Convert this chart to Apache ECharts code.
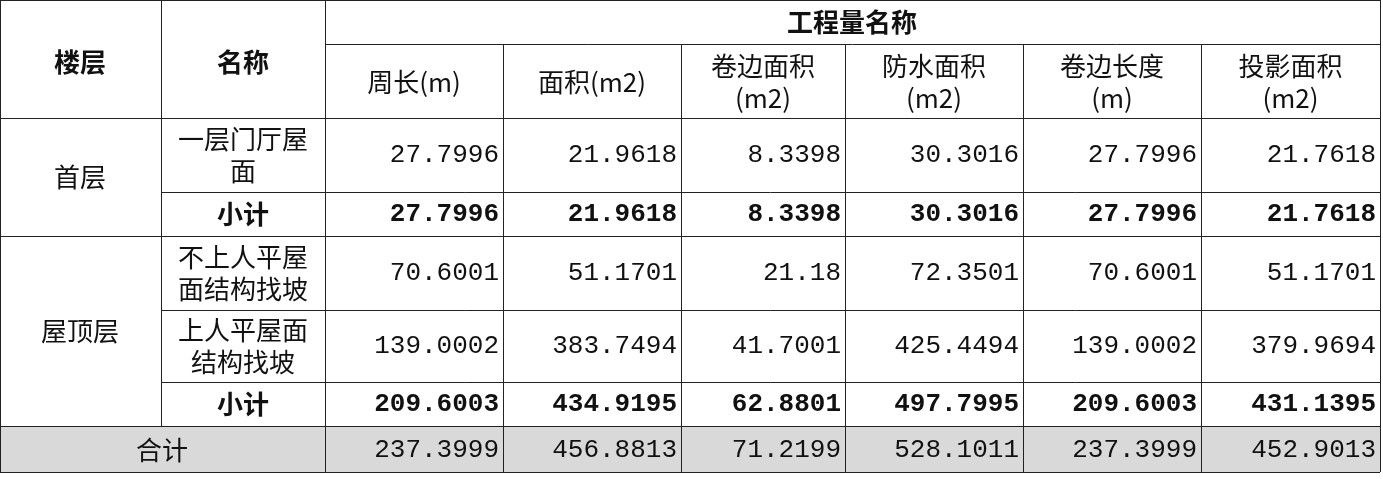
<!DOCTYPE html><html><head><meta charset="utf-8">
<script src="https://cdn.jsdelivr.net/npm/echarts@6/dist/echarts.min.js"></script>
<style>html,body{margin:0;background:#fff}#c{width:1383px;height:479px}</style></head><body><div id="c"></div>
<script>
const colHeaders=['周长(m)','面积(m2)','卷边面积\n(m2)','防水面积\n(m2)','卷边长度\n(m)','投影面积\n(m2)'];
const floors=['首层','屋顶层'];
const names=['一层门厅屋\n面','小计','不上人平屋\n面结构找坡','上人平屋面\n结构找坡','小计'];
const row1=['27.7996','21.9618','8.3398','30.3016','27.7996','21.7618'];
const row2=['27.7996','21.9618','8.3398','30.3016','27.7996','21.7618'];
const row3=['70.6001','51.1701','21.18','72.3501','70.6001','51.1701'];
const row4=['139.0002','383.7494','41.7001','425.4494','139.0002','379.9694'];
const row5=['209.6003','434.9195','62.8801','497.7995','209.6003','431.1395'];
const total=['237.3999','456.8813','71.2199','528.1011','237.3999','452.9013'];
const rows=[row1,row2,row3,row4,row5];
const bold=[false,true,false,false,true];
const X=[0,161,325,503,681,845,1023,1201,1380];
const Y=[118,192,236,310,382,426];
const els=[];const cj='"Noto Sans CJK SC"';
function line(x1,y1,x2,y2){els.push({type:'line',shape:{x1,y1,x2,y2},style:{stroke:'#222',lineWidth:1}});}
function txt(t,x,y,align,b,mono){els.push({type:'text',x,y,style:{text:t,align,verticalAlign:'middle',fill:'#111',font:(b?'bold ':'')+'26px '+(mono?'"Liberation Mono",'+cj:cj),lineHeight:32}});}
els.push({type:'rect',shape:{x:0,y:426,width:1380,height:46},style:{fill:'#d9d9d9'}});
// lines
line(0,0.5,1380,0.5);line(325,44.5,1380,44.5);line(0,118.5,1380,118.5);
line(161,192.5,1380,192.5);line(0,236.5,1380,236.5);line(161,310.5,1380,310.5);
line(161,382.5,1380,382.5);line(0,426.5,1380,426.5);line(0,472.5,1380,472.5);
X.forEach((x,i)=>{const xx=x+0.5;if(i===0||i===2||i===8)line(xx,0,xx,472);else if(i===1)line(xx,0,xx,426);else line(xx,44,xx,472);});
txt('楼层',80,62,'center',true);txt('名称',243,62,'center',true);
txt('工程量名称',852,22,'center',true);
colHeaders.forEach((h,i)=>txt(h,(X[i+2]+X[i+3])/2,82,'center',false));
txt(floors[0],80,177,'center');txt(floors[1],80,331,'center');
names.forEach((n,i)=>txt(n,243,(Y[i]+Y[i+1])/2,'center',bold[i]));
rows.forEach((r,i)=>r.forEach((v,j)=>txt(v,X[j+3]-4,(Y[i]+Y[i+1])/2,'right',bold[i],true)));
txt('合计',162,450,'center');
total.forEach((v,j)=>txt(v,X[j+3]-4,450,'right',false,true));
const ch=echarts.init(document.getElementById('c'));
ch.setOption({animation:false,graphic:{elements:els}});
</script></body></html>
